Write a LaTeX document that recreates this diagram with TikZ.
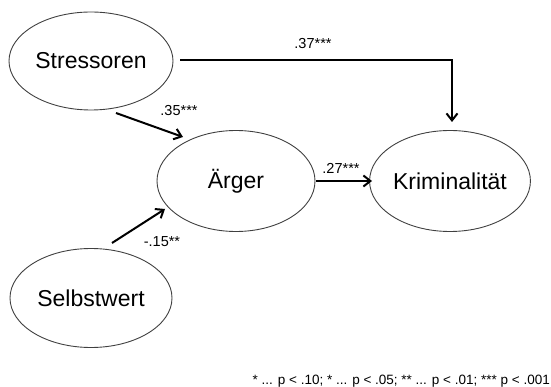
\documentclass[tikz,border=0pt]{standalone}
\usepackage{fontspec}
\setmainfont{Liberation Sans}
\usetikzlibrary{arrows.meta,shapes.geometric}
\begin{document}
\begin{tikzpicture}[x=1pt,y=-1pt,
  var/.style={draw=black!75,line width=0.9pt,ellipse,inner sep=0pt,font=\fontsize{23}{26}\selectfont},
  path/.style={line width=2pt,-{Straight Barb[length=7pt,width=11pt,line width=2pt]}},
  coef/.style={font=\fontsize{14.5}{16}\selectfont,inner sep=0pt}]
\useasboundingbox (0,0) rectangle (551,387);
\node[var,minimum width=164pt,minimum height=98pt] (str) at (91,61) {Stressoren};
\node[var,minimum width=158pt,minimum height=101pt] (aer) at (236,181) {Ärger};
\node[var,minimum width=152pt,minimum height=101pt] (kri) at (450,181) {Kriminalität};
\node[var,minimum width=162pt,minimum height=99pt] (sel) at (91,298) {Selbstwert};
\coordinate (s1) at (180,60);
\coordinate (k1) at (452,122);
\coordinate (s2) at (116,113);
\coordinate (a2) at (183,137);
\coordinate (a3) at (316,181);
\coordinate (k3) at (372,181);
\coordinate (b1) at (112,243);
\coordinate (a4) at (165,209);
\draw[path] (s1) -| (k1);
\draw[path] (s2) -- (a2);
\draw[path] (a3) -- (k3);
\draw[path] (b1) -- (a4);
\node[coef] (l1) at (313,44) {.37***};
\node[coef] (l2) at (179,111) {.35***};
\node[coef] (l3) at (341,168) {.27***};
\node[coef] (l4) at (162,242) {-.15**};
\node[font=\fontsize{13.5}{15}\selectfont,anchor=base east,inner sep=0pt] (fn) at (550,384) {* ... p < .10; * ... p < .05; ** ... p < .01; *** p < .001};
\end{tikzpicture}
\end{document}
